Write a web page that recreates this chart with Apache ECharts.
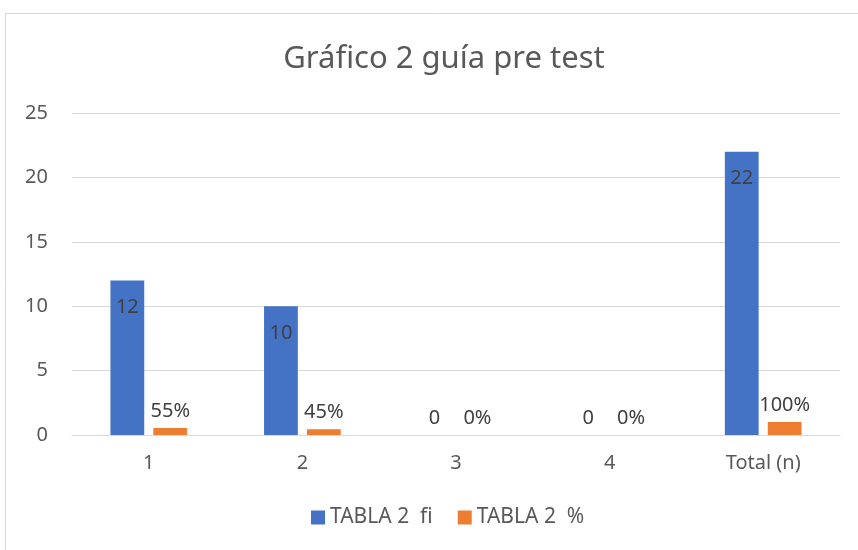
<!DOCTYPE html>
<html>
<head>
<meta charset="utf-8">
<script src="https://cdn.jsdelivr.net/npm/echarts@6/dist/echarts.min.js"></script>
<style>
  html, body { margin: 0; padding: 0; background: #fff; }
  #chart { width: 858px; height: 550px; }
</style>
</head>
<body>
<div id="chart"></div>
<script>
const categories = ['1', '2', '3', '4', 'Total (n)'];
const fiValues = [12, 10, 0, 0, 22];
const pctValues = [0.55, 0.45, 0, 0, 1];
const seriesNames = ['TABLA 2  fi', 'TABLA 2  %'];

const font = '"Noto Sans", sans-serif';
const textColor = '#595959';
const labelColor = '#404040';

// zero-height bars get their label above the baseline, like Excel
function toData(list, insidePos) {
    return list.map(v => v === 0
        ? { value: v, label: { position: 'top', distance: 7 } }
        : { value: v, label: { position: insidePos } });
}

const chart = echarts.init(document.getElementById('chart'));
const option = {
    animation: false,
    textStyle: { fontFamily: font },
    graphic: [{
        type: 'rect',
        shape: { x: 5.5, y: 13.5, width: 900, height: 600 },
        style: { fill: 'none', stroke: '#d9d9d9', lineWidth: 1 },
        silent: true
    }],
    title: {
        text: 'Gráfico 2 guía pre test',
        left: 439,
        top: 39,
        textAlign: 'center',
        textStyle: { fontFamily: font, fontSize: 31, fontWeight: 'normal', color: textColor }
    },
    grid: { left: 72, right: 18, top: 113, bottom: 115 },
    legend: {
        bottom: 17,
        left: 306,
        itemWidth: 14,
        itemHeight: 14,
        itemGap: 25,
        icon: 'rect',
        textStyle: { fontFamily: font, fontSize: 21, color: textColor }
    },
    xAxis: {
        type: 'category',
        data: categories,
        axisLine: { lineStyle: { color: '#d9d9d9', width: 1 } },
        axisTick: { show: false },
        axisLabel: { fontFamily: font, fontSize: 20, color: textColor, margin: 18 }
    },
    yAxis: {
        type: 'value',
        min: 0,
        max: 25,
        interval: 5,
        axisLine: { show: false },
        axisTick: { show: false },
        axisLabel: { fontFamily: font, fontSize: 20, color: textColor, margin: 24 },
        splitLine: { lineStyle: { color: '#d9d9d9', width: 1 } }
    },
    series: [
        {
            name: seriesNames[0],
            type: 'bar',
            data: toData(fiValues, 'insideTop'),
            barWidth: '22%',
            barGap: '27%',
            itemStyle: { color: '#4472C4' },
            label: {
                show: true,
                distance: 17,
                fontFamily: font,
                fontSize: 20,
                color: labelColor
            }
        },
        {
            name: seriesNames[1],
            type: 'bar',
            data: toData(pctValues, 'top'),
            barWidth: '22%',
            itemStyle: { color: '#ED7D31' },
            label: {
                show: true,
                distance: 7,
                fontFamily: font,
                fontSize: 20,
                color: labelColor,
                formatter: p => Math.round(p.value * 100) + '%'
            }
        }
    ]
};
chart.setOption(option);
</script>
</body>
</html>
